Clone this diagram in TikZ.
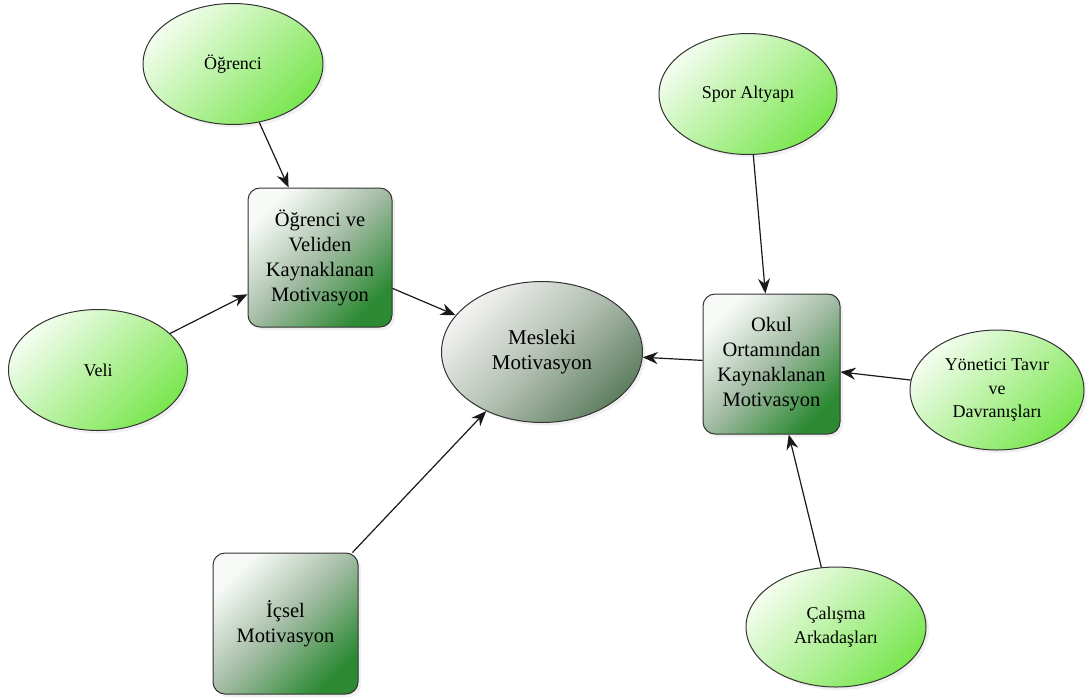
\documentclass[tikz,border=0pt]{standalone}
\usepackage{fontspec}
\setmainfont{Liberation Serif}
\usetikzlibrary{shapes.geometric,arrows.meta,shadows}

\definecolor{leafLight}{HTML}{F3FDEE}
\definecolor{leafDark}{HTML}{7AE650}
\definecolor{boxLight}{HTML}{F7FAF7}
\definecolor{boxMid}{HTML}{A2BBA3}
\definecolor{boxDark}{HTML}{2C8A33}
\definecolor{coreLight}{HTML}{F2F2F0}
\definecolor{coreMid}{HTML}{B4C0B4}
\definecolor{coreDark}{HTML}{5F7F60}

\tikzset{
	leaf/.style={ellipse, draw=black!80, line width=1pt,
		top color=leafLight, bottom color=leafDark, shading angle=45,
		minimum width=178pt, minimum height=121pt, inner sep=0pt,
		align=center, font=\fontsize{18}{23.5}\selectfont,
		drop shadow={opacity=0.12, shadow xshift=3pt, shadow yshift=-3pt}},
	factor/.style={rectangle, rounded corners=12pt, draw=black!80, line width=1pt,
		top color=boxLight, bottom color=boxDark, middle color=boxMid, shading angle=45,
		minimum width=144pt, minimum height=139pt, inner sep=0pt,
		align=center, font=\fontsize{20.5}{25}\selectfont,
		drop shadow={opacity=0.12, shadow xshift=3pt, shadow yshift=-3pt}},
	core/.style={ellipse, draw=black!80, line width=1pt,
		top color=coreLight, bottom color=coreDark, middle color=coreMid, shading angle=45,
		minimum width=201pt, minimum height=141pt, inner sep=0pt,
		align=center, font=\fontsize{21}{25}\selectfont,
		drop shadow={opacity=0.12, shadow xshift=3pt, shadow yshift=-3pt}},
	arr/.style={-{Stealth[length=15pt,width=12pt]}, line width=1.2pt, draw=black!90}
}

\begin{document}
\begin{tikzpicture}[x=1pt, y=-1pt]
		%%%%% START %%%%%
		
		\useasboundingbox (0, 0) rectangle (1086, 697);
		
		\node[core] (mesleki) at (542, 352) {Mesleki\\Motivasyon};
		
		\node[factor] (ogrveli) at (320, 257.5) {Öğrenci ve\\Veliden\\Kaynaklanan\\Motivasyon};
		\node[factor, minimum width=137pt, minimum height=140pt] (okul) at (771.5, 364) {Okul\\Ortamından\\Kaynaklanan\\Motivasyon};
		\node[factor, minimum width=145pt, minimum height=141pt] (icsel) at (285.5, 623.5) {İçsel\\Motivasyon};
		
		\node[leaf, minimum width=180pt] (ogrenci) at (233, 64) {Öğrenci};
		\node[leaf, minimum width=179pt] (veli) at (98, 370) {Veli};
		\node[leaf] (spor) at (748, 94) {Spor Altyapı};
		\node[leaf, minimum width=174pt, minimum height=120pt] (yonetici) at (997, 390) {Yönetici Tavır\\ve\\Davranışları};
		\node[leaf, minimum width=180pt, minimum height=120pt] (calisma) at (836, 627) {Çalışma\\Arkadaşları};
		
		\draw[arr] (ogrenci) -- (ogrveli);
		\draw[arr] (veli) -- (ogrveli);
		\draw[arr] (ogrveli) -- (mesleki);
		\draw[arr] (icsel) -- (mesleki);
		
		\draw[arr] (spor) -- (okul);
		\draw[arr] (yonetici) -- (okul);
		\draw[arr] (calisma) -- (okul);
		\draw[arr] (okul) -- (mesleki);
		
		%%%%% END %%%%%
\end{tikzpicture}
\end{document}
